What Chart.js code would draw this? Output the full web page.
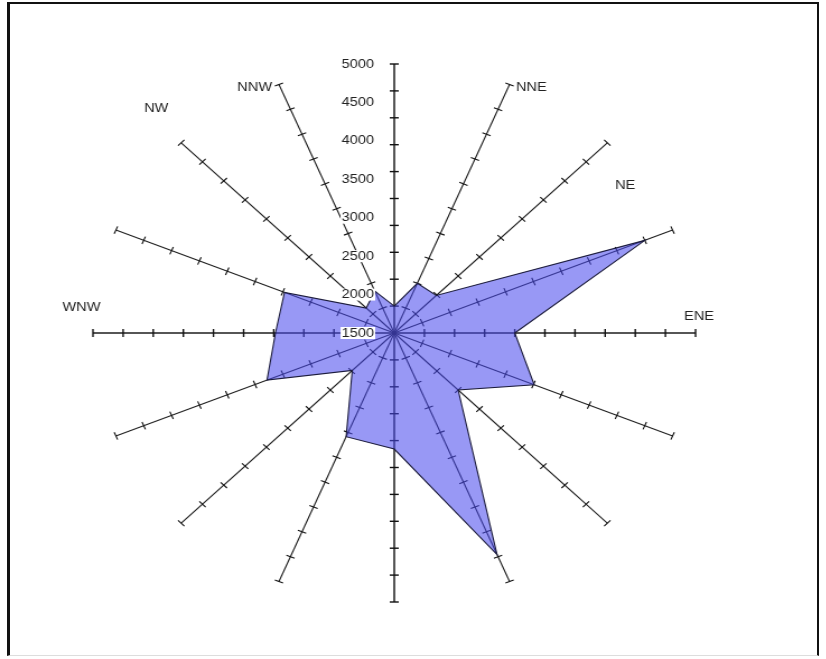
<!DOCTYPE html>
<html>
<head>
<meta charset="utf-8">
<script src="https://cdn.jsdelivr.net/npm/chart.js@4.4.1/dist/chart.umd.min.js"></script>
<style>
  html, body { margin: 0; padding: 0; background: #fff; }
  body { width: 826px; height: 659px; overflow: hidden; position: relative; }
  .frame {
    position: absolute; left: 7px; top: 2px; width: 812px; height: 654px;
    box-sizing: border-box;
    border-left: 3px solid #111; border-top: 2px solid #111;
    border-right: 2px solid #111; border-bottom: 1px solid #ddd;
  }
  /* the reference plot is wider than tall, so stretch the canvas horizontally */
  .wrap {
    position: absolute; left: 0; top: 0; width: 738px; height: 659px;
    transform: scaleX(1.12); transform-origin: 0 0;
  }
</style>
</head>
<body>
<div class="frame"></div>
<div class="wrap"><canvas id="rose"></canvas></div>
<script>
const directions = ['N', 'NNE', 'NE', 'ENE', 'E', 'ESE', 'SE', 'SSE', 'S', 'SSW', 'SW', 'WSW', 'W', 'WNW', 'NW', 'NNW'];
const counts = [1850, 2200, 2190, 4650, 2900, 3260, 2550, 4620, 3010, 2960, 2190, 3100, 2880, 2880, 1960, 2090];
const scaleLabels = [1500, 2000, 2500, 3000, 3500, 4000, 4500, 5000];
const spokeTicks = [1850, 2200, 2550, 2900, 3250, 3600, 3950, 4300, 4650, 5000];
const shownNames = ['NNE', 'NE', 'ENE', 'WNW', 'NW', 'NNW'];

(function () {
  const fontFamily = '"Liberation Sans", Arial, sans-serif';
  Chart.defaults.font.family = fontFamily;

  // where the few visible direction names sit, as fractions of the radius
  const namePlace = {
    NNE: [0.404, -0.912],
    NE: [0.733, -0.549],
    ENE: [0.962, -0.062],
    WNW: [-1.101, -0.096],
    NW: [-0.830, -0.835],
    NNW: [-0.521, -0.914],
  };

  const spokeTickPlugin = {
    id: 'spokeTicks',
    beforeDatasetsDraw(chart) {
      const r = chart.scales.r;
      const ctx = chart.ctx;
      ctx.save();
      ctx.strokeStyle = '#111';
      directions.forEach((d, i) => {
        const a = r.getIndexAngle(i) - Math.PI / 2;
        const px = -Math.sin(a), py = Math.cos(a);
        const len = 4;
        ctx.lineWidth = i % 4 === 0 ? 1.4 : 1.1;
        spokeTicks.forEach(v => {
          const p = r.getPointPositionForValue(i, v);
          ctx.beginPath();
          ctx.moveTo(p.x - px * len, p.y - py * len);
          ctx.lineTo(p.x + px * len, p.y + py * len);
          ctx.stroke();
        });
      });
      ctx.restore();
    },
    afterDatasetsDraw(chart) {
      const r = chart.scales.r;
      const ctx = chart.ctx;
      ctx.save();
      ctx.font = '13px ' + fontFamily;
      ctx.textBaseline = 'middle';
      ctx.fillStyle = '#222';

      ctx.textAlign = 'right';
      scaleLabels.forEach(v => {
        const y = r.yCenter - r.getDistanceFromCenterForValue(v);
        const x = r.xCenter - 18;
        const w = ctx.measureText(String(v)).width;
        ctx.fillStyle = '#fff';
        ctx.fillRect(x - w - 1, y - 6, w + 2, 12);
        ctx.fillStyle = '#222';
        ctx.fillText(String(v), x, y);
      });

      ctx.textAlign = 'left';
      shownNames.forEach(name => {
        const f = namePlace[name];
        ctx.fillText(name, r.xCenter + f[0] * r.drawingArea, r.yCenter + f[1] * r.drawingArea);
      });
      ctx.restore();
    },
  };

  new Chart(document.getElementById('rose'), {
    type: 'radar',
    data: {
      labels: directions,
      datasets: [{
        data: counts,
        backgroundColor: 'rgba(72, 72, 237, 0.56)',
        borderColor: '#1c1c3c',
        borderWidth: 1.1,
        pointRadius: 0,
        fill: true,
        tension: 0,
      }],
    },
    options: {
      responsive: true,
      maintainAspectRatio: false,
      animation: false,
      layout: { padding: { left: 52, right: 86, top: 64, bottom: 57 } },
      plugins: { legend: { display: false }, tooltip: { enabled: false } },
      scales: {
        r: {
          min: 1500,
          max: 5000,
          grid: { display: false },
          angleLines: {
            color: '#1e1e1e',
            lineWidth: ctx => (ctx.index % 4 === 0 ? 1.5 : 1.1),
          },
          ticks: { display: false, stepSize: 500 },
          pointLabels: { display: false },
        },
      },
    },
    plugins: [spokeTickPlugin],
  });
})();
</script>
</body>
</html>
